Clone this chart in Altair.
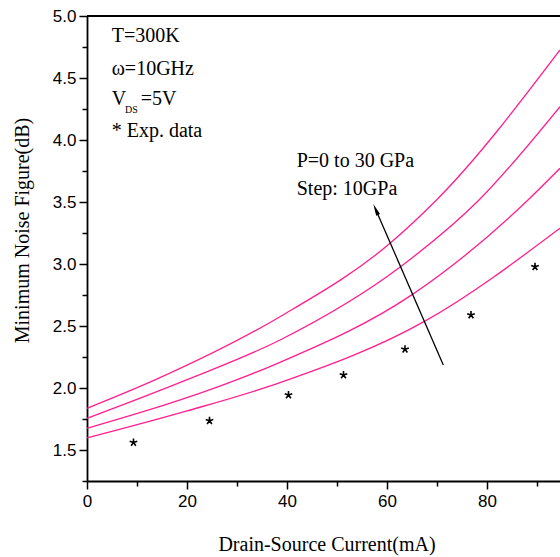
import altair as alt
import pandas as pd

# ---- data ----
p_labels = ["0 GPa", "10 GPa", "20 GPa", "30 GPa"]
c0_x = [0, 20, 38.6, 67.4, 94.6]
c0_y = [1.597, 1.815, 2.043, 2.535, 3.288]
c1_x = [0, 29.9, 38.6, 65.1, 88.2, 94.6]
c1_y = [1.675, 2.065, 2.207, 2.755, 3.516, 3.772]
c2_x = [0, 19.9, 38.6, 62.7, 78.4, 94.6]
c2_y = [1.755, 2.065, 2.387, 2.978, 3.516, 4.269]
c3_x = [0, 13.6, 38.6, 60.6, 69.9, 94.6]
c3_y = [1.836, 2.065, 2.575, 3.167, 3.516, 4.726]

exp_current = [9.3, 24.5, 40.3, 51.3, 63.6, 76.8, 89.6]
exp_nf = [1.56, 1.736, 1.944, 2.105, 2.312, 2.589, 2.978]

ann_text = ["T=300K", "ω=10GHz", "V", "=5V", "* Exp. data", "P=0 to 30 GPa", "Step: 10GPa"]
ann_x = [4.94, 4.94, 4.94, 10.74, 4.94, 41.94, 41.94]
ann_y = [4.788, 4.524, 4.282, 4.282, 4.027, 3.785, 3.556]
sub_text = ["DS"]
sub_x = [7.6]
sub_y = [4.215]

arrow_start = (71.26, 2.186)
arrow_head = (57.74, 3.44)

x_major = [0, 20, 40, 60, 80]
x_minor = [10, 30, 50, 70, 90]
y_major = [1.5, 2.0, 2.5, 3.0, 3.5, 4.0, 4.5, 5.0]
y_minor = [1.25, 1.75, 2.25, 2.75, 3.25, 3.75, 4.25, 4.75]

rows = []
for lab, xs, ys in zip(p_labels, [c0_x, c1_x, c2_x, c3_x], [c0_y, c1_y, c2_y, c3_y]):
    for a, b in zip(xs, ys):
        rows.append({"P": lab, "I": a, "NF": b})
curves = pd.DataFrame(rows)
exp_df = pd.DataFrame({"I": exp_current, "NF": exp_nf})
ann_df = pd.DataFrame({"x": ann_x, "y": ann_y, "t": ann_text})
sub_df = pd.DataFrame({"x": sub_x, "y": sub_y, "t": sub_text})
arrow_df = pd.DataFrame({"x": [arrow_start[0]], "y": [arrow_start[1]],
                         "x2": [arrow_head[0]], "y2": [arrow_head[1]]})
head_df = pd.DataFrame({"x": [arrow_head[0]], "y": [arrow_head[1]]})

XMAX = 94.6
xscale = alt.Scale(domain=[0, XMAX], nice=False, zero=False)
yscale = alt.Scale(domain=[1.25, 5.0], nice=False, zero=False)

xaxis = alt.Axis(
    values=x_major, orient="bottom", tickSize=8,
    title="Drain-Source Current(mA)",
    titleX=239.5, titleY=69, titleAlign="center", titleBaseline="alphabetic",
    labelPadding=4, grid=False,
)
yaxis = alt.Axis(
    values=y_major, orient="left", tickSize=8, format=".1f",
    title="Minimum Noise Figure(dB)",
    titleX=-65, titleY=214, titleAngle=270, titleAlign="center", titleBaseline="middle",
    labelPadding=3, grid=False,
)
xaxis_minor = alt.Axis(values=x_minor, orient="bottom", tickSize=5, labels=False,
                       domain=False, title=None, grid=False)
yaxis_minor = alt.Axis(values=y_minor, orient="left", tickSize=5, labels=False,
                       domain=False, title=None, grid=False)

lines = alt.Chart(curves).mark_line(color="#FF1F8E", strokeWidth=1.3, interpolate="monotone").encode(
    x=alt.X("I:Q", scale=xscale, axis=xaxis),
    y=alt.Y("NF:Q", scale=yscale, axis=yaxis),
    detail="P:N",
)

aster = "M0,0L0,-1M0,0L0.95,-0.31M0,0L0.59,0.81M0,0L-0.59,0.81M0,0L-0.95,-0.31"
stars = alt.Chart(exp_df).mark_point(shape=aster, filled=False, stroke="black",
                                     strokeWidth=1.6, size=64, opacity=1).encode(
    x=alt.X("I:Q", scale=xscale, axis=xaxis_minor),
    y=alt.Y("NF:Q", scale=yscale, axis=yaxis_minor))

ann = alt.Chart(ann_df).mark_text(align="left", baseline="alphabetic", font="Liberation Serif",
                                  fontSize=20, color="black").encode(
    x=alt.X("x:Q", scale=xscale, axis=None), y=alt.Y("y:Q", scale=yscale, axis=None), text="t:N")
sub = alt.Chart(sub_df).mark_text(align="left", baseline="alphabetic", font="Liberation Serif",
                                  fontSize=10, color="black").encode(
    x=alt.X("x:Q", scale=xscale, axis=None), y=alt.Y("y:Q", scale=yscale, axis=None), text="t:N")

arrow = alt.Chart(arrow_df).mark_rule(color="black", strokeWidth=1.3).encode(
    x=alt.X("x:Q", scale=xscale, axis=None), y=alt.Y("y:Q", scale=yscale, axis=None),
    x2="x2:Q", y2="y2:Q")
head = alt.Chart(head_df).mark_point(shape="M0,-1L0.35,1L-0.35,1Z", filled=True, fill="black",
                                     size=144, angle=336.5, opacity=1).encode(
    x=alt.X("x:Q", scale=xscale, axis=None), y=alt.Y("y:Q", scale=yscale, axis=None))

topline = alt.Chart(pd.DataFrame({"a": [0]})).mark_rule(color="black", strokeWidth=1.8).encode(
    x=alt.datum(0, scale=xscale, axis=None), x2=alt.datum(XMAX),
    y=alt.datum(5.0, scale=yscale, axis=None))

chart = alt.layer(lines, stars, ann, sub, arrow, head, topline).resolve_axis(
    x="independent", y="independent"
).properties(
    width=473, height=465,
    background="white",
    autosize=alt.AutoSizeParams(type="none"),
    padding={"left": 87, "top": 16, "right": 0, "bottom": 76},
).configure_view(strokeWidth=0).configure_axis(
    domainColor="black", domainWidth=1.8, tickColor="black", tickWidth=1.5,
    labelFont="Liberation Sans", labelFontSize=17, labelColor="black",
    titleFont="Liberation Serif", titleFontSize=20, titleFontWeight="normal", titleColor="black",
    labelOverlap=False, labelFlush=False,
)

chart.save("out.html", embed_options={"renderer": "svg", "actions": False})
